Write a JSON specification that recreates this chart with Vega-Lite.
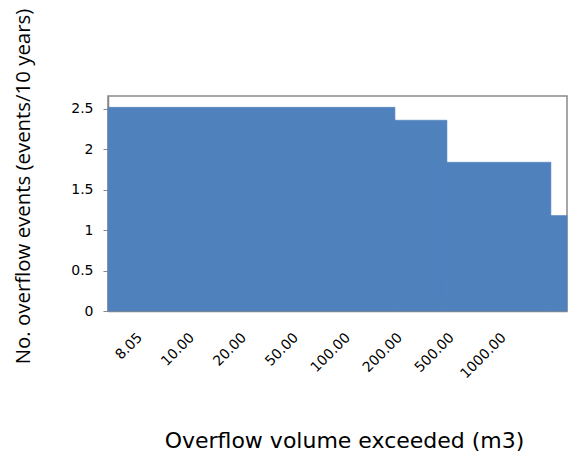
{
  "$schema": "https://vega.github.io/schema/vega-lite/v6.json",
  "width": 459,
  "height": 215,
  "autosize": "none",
  "padding": {"left": 108, "top": 96, "right": 1, "bottom": 145},
  "background": "white",
  "config": {
    "font": "DejaVu Sans",
    "view": {"stroke": "#898989", "strokeWidth": 1.5},
    "axis": {
      "domainColor": "#898989",
      "tickColor": "#898989",
      "labelColor": "#000000",
      "titleColor": "#000000",
      "labelFont": "DejaVu Sans",
      "labelFontSize": 14,
      "titleFontWeight": "normal",
      "grid": false
    }
  },
  "data": {
    "values": [
      {"start": 0, "end": 5.52, "events": 2.52},
      {"start": 5.52, "end": 6.52, "events": 2.36},
      {"start": 6.52, "end": 8.52, "events": 1.84},
      {"start": 8.52, "end": 8.83, "events": 1.18}
    ]
  },
  "mark": {"type": "rect", "color": "#4F81BD", "stroke": "#4F81BD", "strokeWidth": 0.6},
  "encoding": {
    "x": {
      "field": "start",
      "type": "quantitative",
      "scale": {"domain": [0, 8.83], "nice": false, "zero": false},
      "axis": {
        "title": "Overflow volume exceeded (m3)",
        "titleFont": "DejaVu Sans",
        "titleFontSize": 22,
        "titleX": 236,
        "values": [0.61, 1.61, 2.61, 3.61, 4.61, 5.61, 6.61, 7.61],
        "labelExpr": "['8.05','10.00','20.00','50.00','100.00','200.00','500.00','1000.00'][floor(datum.value)]",
        "labelAngle": -45,
        "labelAlign": "right",
        "labelBaseline": "middle",
        "ticks": false,
        "labelPadding": 24,
        "titlePadding": 50,
        "domainWidth": 1.5
      }
    },
    "x2": {"field": "end"},
    "y": {
      "field": "events",
      "type": "quantitative",
      "scale": {"domain": [0, 2.66], "nice": false},
      "axis": {
        "title": "No. overflow events (events/10 years)",
        "titleFont": "Open Sans",
        "titleFontSize": 20.4,
        "titleY": 90,
        "values": [0, 0.5, 1, 1.5, 2, 2.5],
        "format": "~g",
        "tickSize": 5,
        "labelPadding": 10,
        "titlePadding": 37,
        "domainWidth": 1.5
      }
    },
    "y2": {"datum": 0}
  }
}
